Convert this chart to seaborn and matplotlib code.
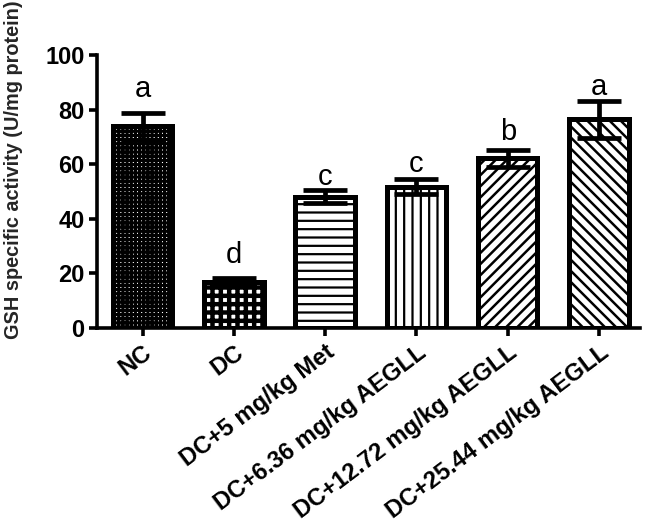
import matplotlib
matplotlib.use("Agg")
import matplotlib.pyplot as plt
import seaborn as sns
import pandas as pd

groups = ["NC", "DC", "DC+5 mg/kg Met", "DC+6.36 mg/kg AEGLL",
          "DC+12.72 mg/kg AEGLL", "DC+25.44 mg/kg AEGLL"]
means = [73.8, 16.8, 48.0, 51.8, 62.1, 76.4]
errors = [4.8, 1.4, 2.4, 2.7, 3.0, 6.8]
letters = ["a", "d", "c", "c", "b", "a"]
letter_gap = [6.0, 5.5, 2.0, 2.7, 3.7, 2.0]

hatches = ["++++", "++", "--", "||", "///", "\\\\\\"]
hatch_lw = [2.2, 3.2, 1.6, 1.6, 1.8, 1.8]

sns.set_theme(style="ticks")
plt.rcParams["font.family"] = ["Liberation Sans", "DejaVu Sans"]

df = pd.DataFrame({"group": groups, "value": means})

fig = plt.figure(figsize=(6.46, 5.23), dpi=100)
ax = fig.add_axes([0.150, 0.373, 0.841, 0.522])

sns.barplot(data=df, x="group", y="value", color="white", edgecolor="black",
            linewidth=3.6, width=0.65, ax=ax, errorbar=None, saturation=1)

for p, h, hl in zip(ax.patches, hatches, hatch_lw):
    p.set_facecolor("white")
    p.set_hatch(h)
    if hasattr(p, "set_hatch_linewidth"):
        p.set_hatch_linewidth(hl)
    p.set_zorder(2)

xs = list(range(len(groups)))
ax.errorbar(xs, means, yerr=errors, fmt="none", ecolor="black",
            elinewidth=3.4, capsize=16, capthick=3.4, zorder=3)

for x, m, e, l, g in zip(xs, means, errors, letters, letter_gap):
    ax.text(x, m + e + g, l, ha="center", va="baseline", fontsize=21,
            color="black")

ax.set_ylim(0, 100)
ax.set_xlim(-0.5, 5.45)
ax.set_yticks([0, 20, 40, 60, 80, 100])
ax.set_ylabel("")
fig.text(0.021, 0.675, "GSH specific activity (U/mg protein)", rotation=90,
         ha="center", va="center", fontsize=14.3, fontweight="bold")
ax.set_xlabel("")
ax.set_xticks(xs)
ax.set_xticklabels(groups, rotation=37, ha="right", rotation_mode="anchor",
                   fontsize=17.2, fontweight="bold")
for t in ax.get_yticklabels():
    t.set_fontweight("bold")
    t.set_fontsize(17)

sns.despine(ax=ax)
for s in ["left", "bottom"]:
    ax.spines[s].set_linewidth(2.6)
    ax.spines[s].set_color("black")
ax.tick_params(axis="both", width=2.6, length=6, color="black",
               labelcolor="black", pad=3)

fig.savefig("out.png", dpi=100)
